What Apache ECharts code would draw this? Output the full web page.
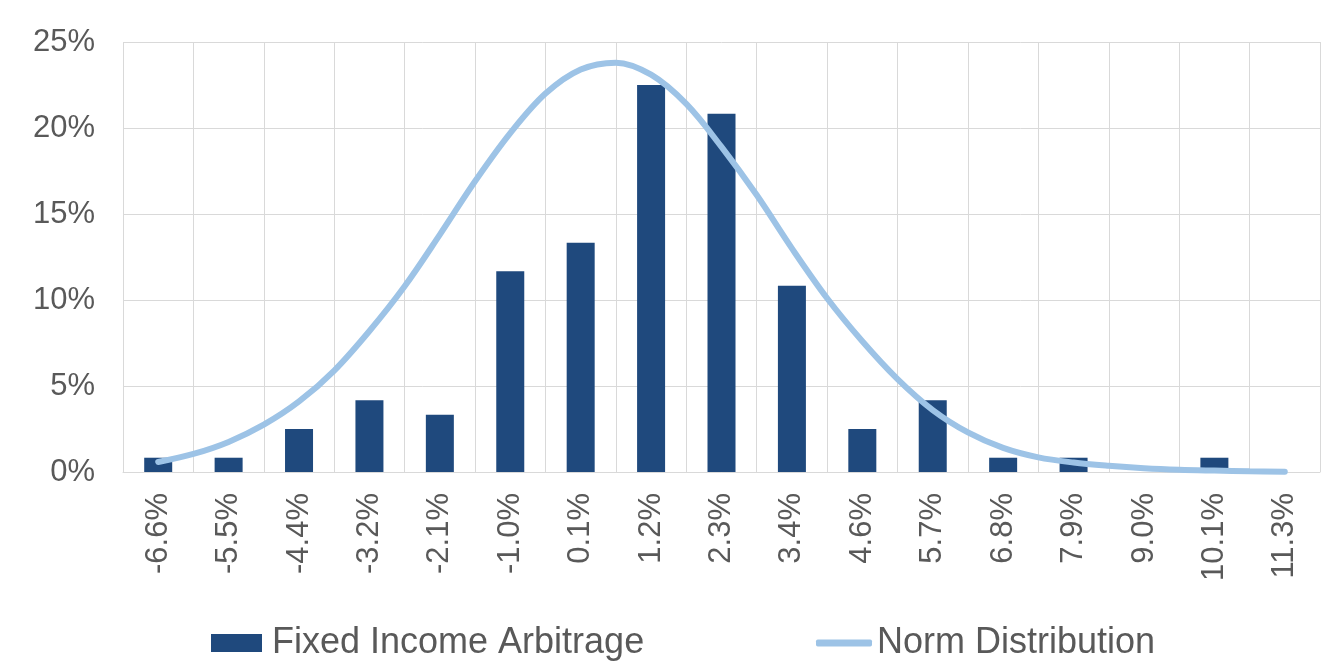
<!DOCTYPE html>
<html>
<head>
<meta charset="utf-8">
<title>Fixed Income Arbitrage</title>
<script src="https://cdn.jsdelivr.net/npm/echarts@6/dist/echarts.min.js"></script>
<style>
    html, body { margin: 0; padding: 0; background: #fff; }
    #chart { width: 1344px; height: 661px; }
</style>
</head>
<body>
<div id="chart"></div>
<script>
// categories (return buckets)
var categories = ['-6.6%', '-5.5%', '-4.4%', '-3.2%', '-2.1%', '-1.0%', '0.1%', '1.2%', '2.3%',
    '3.4%', '4.6%', '5.7%', '6.8%', '7.9%', '9.0%', '10.1%', '11.3%'];
// frequency, in %
var fixedIncome = [0.83, 0.83, 2.5, 4.17, 3.33, 11.67, 13.33, 22.5, 20.83,
    10.83, 2.5, 4.17, 0.83, 0.83, 0, 0.83, 0];
// normal curve: position in bucket units (0 = first bucket), value in %
var normPos = [0, 0.5, 1, 1.5, 2, 2.5, 3, 3.5, 4, 4.5, 5, 5.5, 6, 6.5, 7, 7.5, 8,
    8.5, 9, 9.5, 10, 10.5, 11, 11.5, 12, 12.5, 13, 13.5, 14, 14.5, 15, 15.5, 16];
var normDist = [0.58, 1.05, 1.75, 2.75, 4.1, 5.9, 8.2, 10.8, 13.8, 16.9, 19.7, 22.0, 23.4, 23.8, 23.1, 21.4, 18.9,
    16.1, 13.0, 10.1, 7.6, 5.4, 3.6, 2.3, 1.4, 0.85, 0.55, 0.36, 0.22, 0.13, 0.08, 0.04, 0.02];
var yTicks = { min: 0, max: 25, interval: 5 };

var textColor = '#595959';
var gridColor = '#D9D9D9';
var fontName = '"Liberation Sans", Arial, sans-serif';

var myChart = echarts.init(document.getElementById('chart'));
var options = {
    animation: false,
    grid: {
        left: 123,
        right: 24,
        top: 42,
        bottom: 189
    },
    legend: [
        {
            data: [{ name: 'Fixed Income Arbitrage', icon: 'rect' }],
            left: 211,
            top: 625,
            padding: 0,
            itemWidth: 51,
            itemHeight: 18,
            textStyle: { color: textColor, fontSize: 36, fontFamily: fontName, padding: [0, 0, 0, 5] }
        },
        {
            data: [{ name: 'Norm Distribution', icon: 'roundRect' }],
            left: 816,
            top: 625,
            padding: 0,
            itemWidth: 56,
            itemHeight: 7,
            textStyle: { color: textColor, fontSize: 36, fontFamily: fontName }
        }
    ],
    xAxis: [
        {
            type: 'category',
            data: categories,
            boundaryGap: true,
            axisTick: { show: false },
            axisLine: { lineStyle: { color: gridColor, width: 1 } },
            splitLine: { show: true, lineStyle: { color: gridColor, width: 1 } },
            axisLabel: {
                rotate: 90,
                margin: 21,
                color: textColor,
                fontSize: 31,
                fontFamily: fontName,
                interval: 0
            }
        },
        {
            // hidden axis for the curve, same span as the buckets
            type: 'value',
            min: -0.5,
            max: categories.length - 0.5,
            show: false
        }
    ],
    yAxis: {
        type: 'value',
        min: yTicks.min,
        max: yTicks.max,
        interval: yTicks.interval,
        axisLine: { show: false },
        axisTick: { show: false },
        splitLine: { lineStyle: { color: gridColor, width: 1 } },
        axisLabel: {
            formatter: '{value}%',
            margin: 28,
            color: textColor,
            fontSize: 31,
            fontFamily: fontName
        }
    },
    series: [
        {
            name: 'Fixed Income Arbitrage',
            type: 'bar',
            barWidth: 28,
            itemStyle: { color: '#1F497D' },
            data: fixedIncome
        },
        {
            name: 'Norm Distribution',
            type: 'line',
            xAxisIndex: 1,
            smooth: 0.35,
            symbol: 'none',
            z: 3,
            lineStyle: { color: '#9DC3E6', width: 6, cap: 'round' },
            itemStyle: { color: '#9DC3E6' },
            data: normPos.map(function (p, i) { return [p, normDist[i]]; })
        }
    ]
};
myChart.setOption(options);
</script>
</body>
</html>
